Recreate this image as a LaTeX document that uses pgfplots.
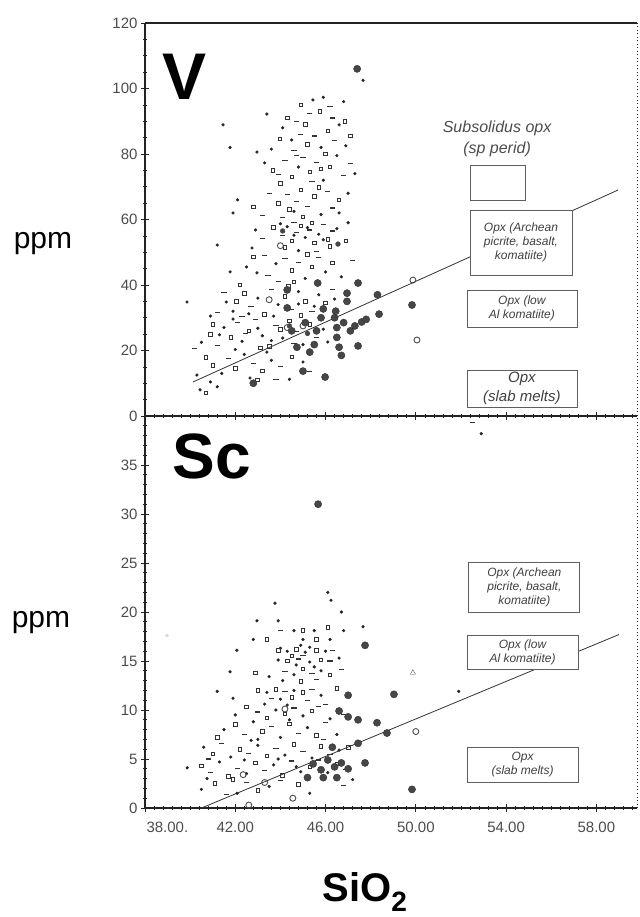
\documentclass[border=0pt]{standalone}
\usepackage{fontspec}
\setmainfont{Liberation Sans}
\usepackage{pgfplots}
\pgfplotsset{compat=1.18}

\definecolor{ink}{RGB}{35,35,35}
\definecolor{bigdot}{RGB}{70,70,70}
\definecolor{boxline}{RGB}{95,95,95}

\pgfplotsset{
  panel/.style={
    scale only axis, width=492pt, xmin=38, xmax=59.8,
    axis x line*=box, axis y line*=left,
    axis line style={line width=1.1pt, ink},
    tick align=center, major tick length=8pt, minor tick length=4pt,
    tick style={ink, line width=0.7pt},
    xtick={42,46,50,54,58}, minor xtick={38.4,38.8,...,59.6},
    xtick pos=bottom,
    /pgf/number format/assume math mode=true,
    tick label style={font=\fontsize{15}{17}\selectfont, black!70},
    clip mode=individual,
  },
  smalldot/.style={only marks, mark=*, mark size=1.4pt, ink},
  smallsq/.style={only marks, mark=square, mark size=1.8pt, black!80, mark options={line width=0.8pt}},
  smalldash/.style={only marks, mark=-, mark size=2.6pt, black!80, mark options={line width=1.1pt}},
  bigd/.style={only marks, mark=*, mark size=3.6pt, mark options={fill=bigdot, draw=bigdot!70!black}},
  opend/.style={only marks, mark=o, mark size=3pt, black!70, mark options={line width=0.9pt}},
  fitline/.style={no marks, black!80, line width=0.8pt},
}
\tikzset{
  lbl/.style={draw=boxline, line width=0.8pt, fill=white, align=center, inner sep=1pt,
    font=\fontsize{12}{14}\selectfont\itshape, text=black!75},
}

\begin{document}
\begin{tikzpicture}
\useasboundingbox (-145pt,-109pt) rectangle (494pt,808pt);

% ---- Sc panel ----
\begin{axis}[panel, at={(0pt,0pt)}, anchor=south west, height=392pt,
  ymin=0, ymax=40, ytick={0,5,...,35}, minor ytick={1,2,...,39},
  xticklabels={42.00,46.00,50.00,54.00,58.00},
  xticklabel style={yshift=-6pt},
  extra x ticks={38}, extra x tick labels={38.00.},
  extra x tick style={xticklabel style={anchor=north west, xshift=-2pt}}]
\addplot[fitline] coordinates {(40.5,0) (59.0,17.7)};
\addplot[smalldot] coordinates {
(46.1,22.0) (43.76,20.9) (42.96,19.1) (43.9,19.1) (47.66,18.5) (44.6,18.1) (45.5,18.1) (46.8,18.1)
(42.8,17.2) (45.0,17.2) (46.2,17.2) (42.07,16.1) (44.3,16.0) (45.1,15.9) (46.0,16.0) (43.9,15.1)
(45.3,14.9) (46.6,15.3) (41.77,13.9) (44.6,13.6) (45.8,14.0) (44.1,13.0) (41.2,11.9) (41.9,11.2)
(43.4,11.8) (44.6,12.0) (45.8,11.5) (44.0,11.1) (51.9,11.9) (42.0,9.5) (43.8,10.0) (45.0,9.4)
(46.2,9.1) (44.4,9.0) (41.5,8.0) (42.8,8.8) (44.0,7.2) (45.2,8.2) (46.5,7.5) (43.0,7.0)
(40.6,6.2) (41.8,5.2) (43.0,6.4) (44.2,5.4) (45.4,5.1) (46.6,5.9) (39.87,4.1) (41.3,4.7)
(42.5,3.5) (43.7,4.4) (44.9,3.7) (46.1,3.6) (40.75,3.0) (40.5,1.9) (42.08,1.5) (43.5,2.2)
(45.3,1.5) (47.2,2.9) (52.9,38.2) (46.24,21.2) (46.7,20.0)
(44.9,16.6) (45.3,16.4) (44.0,16.3) (45.5,14.4) (44.7,14.6) (43.5,13.4) (44.3,10.5) (43.3,10.6)
(42.4,4.9) (43.9,5.0) (44.7,4.2) (42.7,6.9)};
\addplot[smallsq] coordinates {
(46.1,18.4) (45.0,18.1) (43.4,17.2) (45.6,17.2) (43.9,16.1) (44.7,16.2) (45.6,16.1) (44.3,15.0)
(45.8,15.1) (44.5,15.5) (42.9,13.8) (45.0,14.2) (46.2,13.6) (44.9,12.9) (43.0,12.0) (43.8,12.1)
(45.0,11.8) (46.5,12.2) (44.5,11.3) (42.5,10.3) (44.2,9.6) (45.4,9.9) (46.6,10.0) (43.4,9.2)
(42.0,8.5) (43.2,7.8) (44.4,8.6) (45.6,7.4) (41.2,7.2) (41.0,5.5) (42.2,6.0) (43.4,5.3)
(44.6,6.5) (45.8,6.3) (47.0,6.2) (40.5,4.3) (41.7,3.2) (42.9,4.6) (44.1,3.3) (45.3,4.2)
(46.5,4.5) (41.1,2.5) (43.0,1.8) (44.8,2.4) (41.9,2.9)};
\addplot[smalldash] coordinates {
(44.0,18.1) (46.3,16.1) (44.8,15.2) (46.2,15.0) (45.0,15.6) (44.2,13.9) (45.4,13.7) (46.7,14.1)
(45.6,13.1) (44.2,11.9) (45.4,12.1) (43.6,11.2) (45.2,11.0) (43.0,9.8) (44.6,10.2) (45.7,10.4)
(46.0,10.6) (46.8,9.5) (42.4,7.5) (43.6,8.3) (44.8,7.6) (46.0,8.7) (45.9,7.0) (41.4,6.6)
(42.6,5.6) (43.8,6.1) (45.0,5.8) (46.2,5.5) (40.8,5.0) (40.9,3.6) (42.1,4.0) (43.3,3.8)
(44.5,4.8) (45.7,4.9) (46.9,3.9) (41.6,1.4) (42.5,2.6) (44.0,2.8) (46.8,2.3) (52.5,39.3)};
\addplot[bigd] coordinates {
(45.67,31.0) (47.75,16.6) (47.0,11.5) (49.03,11.6) (47.0,9.3) (47.44,9.0) (48.28,8.7) (48.72,7.65)
(47.44,6.6) (47.75,4.6) (49.83,1.9) (45.45,4.5) (45.8,3.9) (46.1,4.9) (46.4,4.2) (46.7,4.6)
(47.0,4.0) (45.9,3.1) (46.5,3.1) (45.2,3.1) (46.6,9.9) (46.3,6.2)};
\addplot[opend] coordinates {(44.55,1.0) (42.35,3.4) (42.6,0.3) (50.0,7.8) (44.2,10.1) (43.3,2.6)};
\addplot[only marks, mark=triangle, mark size=3pt, black!65] coordinates {(49.87,13.8)};
\addplot[only marks, mark=*, mark size=1.6pt, black!15] coordinates {(38.97,17.6)};
\draw[ink, line width=1pt, dash pattern=on 1pt off 2.5pt] (rel axis cs:1,0) -- (rel axis cs:1,1);
\node[font=\fontsize{64}{64}\selectfont\bfseries] at (rel axis cs:0.136,0.898) {Sc};
\node[lbl, minimum width=111pt, minimum height=50pt] at (axis cs:54.81,22.55)
  {Opx (Archean\\ picrite, basalt,\\ komatiite)};
\node[lbl, minimum width=111pt, minimum height=34pt] at (axis cs:54.73,15.9)
  {Opx (low\\ Al komatiite)};
\node[lbl, minimum width=111pt, minimum height=35pt] at (axis cs:54.73,4.44)
  {Opx\\ (slab melts)};
\end{axis}

% ---- V panel ----
\begin{axis}[panel, at={(0pt,392pt)}, anchor=south west, height=393pt,
  ymin=0, ymax=120, ytick={0,20,...,120}, minor ytick={5,10,...,115},
  xticklabels={}]
\addplot[fitline] coordinates {(40.13,10.4) (58.96,69.0)};
\addplot[smalldot] coordinates {
(43.4,92.2) (45.44,96.5) (46.8,96) (41.46,88.9) (44.5,84.3) (45.8,82) (46.9,82.5) (43.6,81.5)
(42.96,80.6) (41.77,82) (43.3,77.3) (44.8,76) (45.9,72) (46.5,79.5) (47.3,74) (42.1,66)
(41.9,62) (44.6,62.5) (45.8,61.5) (46.6,62) (47.0,68) (41.2,52.2) (42.74,51.3) (47.0,59)
(44.3,57.8) (45.1,54.5) (45.7,55.5) (46.5,57.2) (44.8,50.5) (42.9,56.8) (41.77,44) (42.96,43.7)
(43.8,46.5) (45.1,42) (46.0,44) (46.7,42.5) (42.5,45.5) (39.86,34.8) (41.6,34.8) (41.9,32)
(43.0,36) (43.9,34) (44.8,38) (45.7,37) (43.7,30.5) (40.9,30.5) (40.5,22.5) (41.5,27)
(42.3,22.8) (43.2,24.5) (44.1,23.8) (45.0,21.8) (45.9,26.5) (42.0,20.3) (46.1,22.6) (40.9,10.4)
(40.44,8) (41.2,8.9) (42.65,11.6) (44.4,11.2) (41.4,13) (42.4,18.8) (43.6,17) (45.0,16.5)
(43.4,19.5) (40.3,12.5) (47.66,102.5) (45.9,97.3) (44.1,88) (46.6,88.9)
(44.6,55.2) (45.2,57.5) (45.9,53.8) (44.0,58.7) (43.0,26.8) (43.6,23.0) (44.8,34.2) (42.6,31.2)
(45.5,33.5) (41.3,24.8) (41.9,29.6) (46.4,35.7)};
\addplot[smallsq] coordinates {
(44.3,91) (45.75,93) (46.86,90) (44.9,95) (43.98,84.6) (45.2,83) (46.1,87) (45.1,89)
(47.1,85.5) (43.67,75) (44.5,73) (45.3,74.5) (46.2,76) (44.0,71) (46.0,80) (45.8,75.4)
(42.8,63.8) (43.9,65) (44.9,69) (45.5,67) (46.6,66) (45.0,60.8) (45.7,69.8) (44.4,63)
(43.7,57.5) (44.5,53.5) (44.9,58) (45.5,52.8) (46.1,54) (44.2,51.5) (46.2,51.8) (46.9,53.5)
(45.4,58.9) (42.8,48.6) (42.2,40) (44.5,44.5) (45.4,45.5) (46.3,46.8) (44.6,41) (45.2,49.3)
(42.05,35) (42.4,37.5) (43.3,31) (44.2,36.5) (45.1,35) (46.0,34.5) (44.9,30.8) (44.35,39.5)
(40.9,25) (41.8,24) (42.6,26) (43.5,21.2) (44.4,29) (45.3,28) (41.0,28) (43.1,20.8)
(44.0,26.4) (40.7,7) (42.97,11) (41.0,15.5) (42.0,14.5) (43.2,13.8) (44.5,18) (40.7,17.8)};
\addplot[smalldash] coordinates {
(45.3,92.5) (46.3,91) (46.2,94.5) (44.7,90) (44.9,86) (45.5,85.5) (46.4,84) (44.6,81)
(44.2,78) (45.0,79) (45.6,77.5) (46.8,73.5) (47.1,77) (45.4,71.5) (44.7,79.6) (43.9,73.8)
(43.5,68) (44.3,67.5) (45.2,64) (46.1,68.5) (44.1,60.5) (46.3,63.5) (43.2,61.2) (44.7,65.5)
(44.1,55) (44.7,56) (45.3,56.8) (45.9,58.5) (46.3,56.5) (45.6,50.2) (43.2,54.3) (44.6,59.2)
(43.45,42.8) (44.2,48) (44.8,47) (45.7,48.5) (43.9,41.2) (47.2,47.5) (43.3,48.9) (41.2,31.5)
(42.7,33.5) (43.6,38.5) (44.5,32.5) (45.4,31.8) (42.3,30.3) (41.5,37.8) (46.3,38.7) (41.2,21.5)
(42.1,28.5) (42.9,29.5) (43.8,27.5) (44.7,25.8) (45.6,24) (40.2,20.5) (44.6,22) (42.45,25.1)
(43.8,11.2) (41.7,17.5) (42.8,16) (44.0,15) (45.3,13.5)};
\addplot[bigd] coordinates {
(47.4,106) (45.65,40.6) (47.44,40.6) (48.3,37) (49.83,33.9) (48.37,31.1) (47.44,21.4) (45.98,11.9)
(45.0,13.7) (44.73,21) (46.95,37.5) (46.95,35) (45.9,32.7) (45.3,19.5) (45.5,21.8) (46.4,30)
(46.5,27) (46.5,24) (46.6,21) (46.7,18.5) (46.8,28.5) (47.1,26) (47.3,27.5) (47.6,28.7)
(47.8,29.5) (46.45,32) (45.1,28.5) (44.5,26) (45.6,26) (45.8,30) (42.8,10) (44.3,33) (44.3,38.5)};
\addplot[only marks, mark=*, mark size=2.4pt, mark options={fill=bigdot, draw=bigdot}] coordinates {
(44.1,56.5) (46.55,52.5) (44.4,27.5) (45.2,25.2)};
\addplot[opend] coordinates {(49.87,41.5) (50.05,23.2) (44.3,27) (43.5,35.5) (44.0,52) (45.0,27.5)};
\draw[ink, line width=1pt, dash pattern=on 1pt off 2.5pt] (rel axis cs:1,0) -- (rel axis cs:1,1);
\node[font=\fontsize{66}{66}\selectfont\bfseries] at (rel axis cs:0.081,0.863) {V};
\node[align=center, font=\fontsize{16}{21}\selectfont\itshape, text=black!70] at (axis cs:53.6,84.6)
  {Subsolidus opx\\ (sp perid)};
\node[draw=boxline, line width=0.8pt, minimum width=55pt, minimum height=35pt] at (axis cs:53.62,71.3) {};
\node[lbl, minimum width=102pt, minimum height=65pt] at (axis cs:54.66,53.0)
  {Opx (Archean\\ picrite, basalt,\\ komatiite)};
\node[lbl, minimum width=110pt, minimum height=37pt] at (axis cs:54.7,32.8)
  {Opx (low\\ Al komatiite)};
\node[lbl, minimum width=110pt, minimum height=37pt, font=\fontsize{15}{19}\selectfont\itshape] at (axis cs:54.7,8.4)
  {Opx\\ (slab melts)};
\end{axis}

\node[font=\fontsize{30}{30}\selectfont] at (-102pt,564pt) {ppm};
\node[font=\fontsize{30}{30}\selectfont] at (-104pt,185pt) {ppm};
\node[font=\fontsize{40}{40}\selectfont\bfseries] at (220pt,-84pt) {SiO\textsubscript{2}};
\end{tikzpicture}
\end{document}
